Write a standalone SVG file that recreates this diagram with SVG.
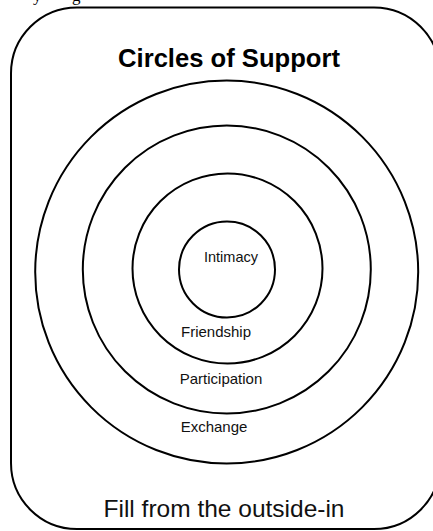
<svg xmlns="http://www.w3.org/2000/svg" width="433" height="531" viewBox="0 0 433 531">
  <style>
    .ring { fill: none; stroke: #000; stroke-width: 2; }
    .frame { fill: #fff; stroke: #000; stroke-width: 2; }
    .lbl { font-family: "Liberation Sans", Arial, sans-serif; font-size: 15px; fill: #111; text-anchor: middle; }
    .title { font-family: "Liberation Sans", Arial, sans-serif; font-size: 25.6px; font-weight: bold; fill: #000; text-anchor: middle; }
    .foot { font-family: "Liberation Sans", Arial, sans-serif; font-size: 24.5px; fill: #111; text-anchor: middle; }
    .frag { font-family: "Liberation Serif", "Times New Roman", serif; font-size: 17px; fill: #000; }
  </style>
  <rect width="433" height="531" fill="#fff"/>
  <text class="frag" x="33" y="0.5">y</text>
  <text class="frag" x="72" y="0.5">g</text>
  <g id="frame">
    <rect class="frame" x="11" y="7.5" width="429" height="521.5" rx="66" ry="66"/>
  </g>
  <g id="title">
    <text class="title" x="229" y="67">Circles of Support</text>
  </g>
  <g id="exchange">
    <circle class="ring" cx="226.7" cy="272" r="191.5"/>
    <text class="lbl" x="214" y="432">Exchange</text>
  </g>
  <g id="participation">
    <circle class="ring" cx="226.8" cy="269.5" r="144"/>
    <text class="lbl" x="221" y="383.5">Participation</text>
  </g>
  <g id="friendship">
    <circle class="ring" cx="227.5" cy="268.5" r="95"/>
    <text class="lbl" x="216" y="337">Friendship</text>
  </g>
  <g id="intimacy">
    <circle class="ring" cx="227" cy="269.5" r="48"/>
    <text class="lbl" x="231" y="262" style="font-size:14.5px">Intimacy</text>
  </g>
  <g id="footer">
    <text class="foot" x="224" y="517">Fill from the outside-in</text>
  </g>
  <g id="connectors"/>
</svg>
